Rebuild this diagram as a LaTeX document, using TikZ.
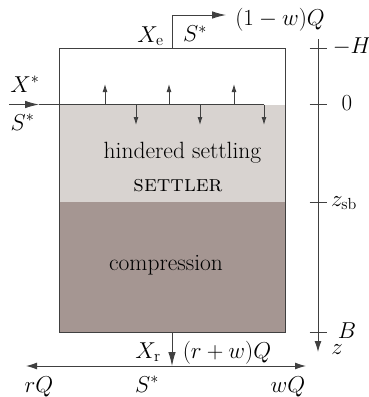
\RequirePackage{fix-cm}
\documentclass[tikz,border=0pt]{standalone}
\usetikzlibrary{arrows.meta}
\definecolor{zonelight}{RGB}{216,211,208}
\definecolor{zonedark}{RGB}{165,150,146}
\tikzset{
  ln/.style={draw=black!75,line width=0.9pt},
  bigarrow/.style={ln,-{Latex[length=14pt,width=7.5pt]}},
  medarrow/.style={ln,-{Latex[length=11pt,width=7pt]}},
  smallarrow/.style={ln,-{Latex[length=8pt,width=5pt]}},
  lab/.style={inner sep=0pt,font=\fontsize{23}{26}\selectfont},
  zonelab/.style={inner sep=0pt,font=\fontsize{23.5}{26}\selectfont},
  tick/.style={ln}
}
\begin{document}
\begin{tikzpicture}[x=1pt,y=-1pt]
\useasboundingbox (0,0) rectangle (369,397);
% zones
\fill[zonelight] (59,104.5) rectangle (285,202);
\fill[zonedark] (59,202) rectangle (285,332);
% vessel
\coordinate (tl) at (59,48);
\coordinate (br) at (285,332);
\draw[ln] (tl) rectangle (br);
% feed
\coordinate (feedin) at (9,104.5);
\coordinate (feedtip) at (39,104.5);
\coordinate (feedend) at (264,104.5);
\draw[bigarrow] (feedin) -- (feedtip);
\draw[ln] (feedtip) -- (feedend);
\foreach \x in {105,169,234}{
  \coordinate (u\x) at (\x,104.5);
  \coordinate (v\x) at (\x,84);
  \draw[smallarrow] (u\x) -- (v\x);
}
\foreach \x in {136,200,264}{
  \coordinate (u\x) at (\x,104.5);
  \coordinate (v\x) at (\x,125);
  \draw[smallarrow] (u\x) -- (v\x);
}
% outlet top
\coordinate (o0) at (172,48);
\coordinate (o1) at (172,15);
\coordinate (o2) at (226,15);
\draw[bigarrow] (o0) -- (o1) -- (o2);
% underflow
\coordinate (b0) at (172,332);
\coordinate (b1) at (172,366);
\coordinate (bl) at (26,366);
\coordinate (br2) at (306,366);
\draw[medarrow] (b1) -- (bl);
\draw[medarrow] (b1) -- (br2);
\draw[bigarrow] (b0) -- (b1);
% axis
\coordinate (a0) at (318,39);
\coordinate (a1) at (318,352);
\draw[medarrow] (a0) -- (a1);
\foreach \y in {48,104,202,332}{
  \coordinate (tl\y) at (309.5,\y);
  \coordinate (tr\y) at (327,\y);
  \draw[tick] (tl\y) -- (tr\y);
}
% labels
\node[zonelab,anchor=base] (lh) at (182.5,158) {hindered settling};
\node[lab,anchor=base,font=\fontsize{23}{26}\selectfont\scshape] (ls) at (178,191) {settler};
\node[zonelab,anchor=base] (lc) at (166,270) {compression};
\node[lab,anchor=base] (l1) at (280,25) {$(1-w)Q$};
\node[lab,anchor=base] (l2) at (150.5,42) {$X_{\mathrm{e}}$};
\node[lab,anchor=base] (l3) at (195,41.5) {$S^*$};
\node[lab,anchor=base] (l4) at (352,53) {$-H$};
\node[lab,anchor=base] (l5) at (347,110) {$0$};
\node[lab,anchor=base] (l6) at (25,92) {$X^*$};
\node[lab,anchor=base] (l7) at (22.5,130) {$S^*$};
\node[lab,anchor=base] (l8) at (344,206) {$z_{\mathrm{sb}}$};
\node[lab,anchor=base] (l9) at (347,338) {$B$};
\node[lab,anchor=base] (l10) at (337,354) {$z$};
\node[lab,anchor=base] (l11) at (148,358) {$X_{\mathrm{r}}$};
\node[lab,anchor=base] (l12) at (227,358) {$(r+w)Q$};
\node[lab,anchor=base] (l13) at (39,392) {$rQ$};
\node[lab,anchor=base] (l14) at (147,392) {$S^*$};
\node[lab,anchor=base] (l15) at (288,392) {$wQ$};
\end{tikzpicture}
\end{document}
